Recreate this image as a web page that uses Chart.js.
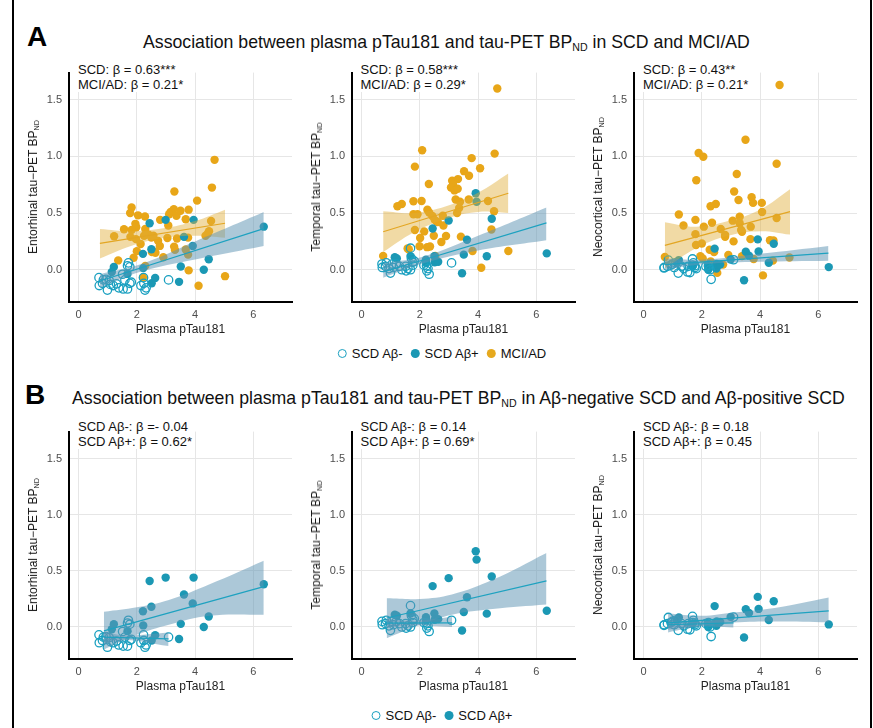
<!DOCTYPE html>
<html>
<head>
<meta charset="utf-8">
<script src="https://cdn.jsdelivr.net/npm/chart.js@4.4.1/dist/chart.umd.min.js"></script>
<style>
  body { margin: 0; background: #fff; font-family: "Liberation Sans", Arial, sans-serif; }
  #fig { position: relative; width: 873px; height: 728px; overflow: hidden; background: #fff; }
  .frame { position: absolute; top: 0; width: 2px; height: 728px; background: #000; }
  .letter { position: absolute; font-size: 28px; font-weight: bold; line-height: 28px; color: #000; }
  .title { position: absolute; font-size: 17.7px; line-height: 20px; color: #111; white-space: nowrap; }
  sub { font-size: 0.6em; vertical-align: -0.3em; line-height: 0; }
  canvas.panel { position: absolute; }
  .ylab { position: absolute; font-size: 12px; line-height: 14px; white-space: nowrap; color: #1a1a1a;
          transform: translate(-50%, -50%) rotate(-90deg); }
  .note { position: absolute; font-size: 13px; line-height: 15px; white-space: nowrap; color: #111;
          background: #fff; padding: 0 2px; }
  .legend { position: absolute; display: flex; align-items: center; font-size: 13px; color: #111;
            transform: translateX(-50%); white-space: nowrap; }
  .legend .mk { display: inline-block; width: 9px; height: 9px; border-radius: 50%; box-sizing: border-box;
                margin-right: 5px; }
  .legend .it { display: flex; align-items: center; margin-right: 8px; }
</style>
</head>
<body>
<div id="fig">
  <div class="frame" style="left:12px"></div>
  <div class="frame" style="left:870px"></div>

  <div class="letter" style="left:27px; top:23px">A</div>
  <div class="title" style="left:143px; top:32px">Association between plasma pTau181 and tau-PET BP<sub>ND</sub> in SCD and MCI/AD</div>

  <div class="letter" style="left:25px; top:381px">B</div>
  <div class="title" style="left:72px; top:388px">Association between plasma pTau181 and tau-PET BP<sub>ND</sub> in Aβ-negative SCD and Aβ-positive SCD</div>

  <div class="legend" style="left:446px; top:346px">
    <span class="it"><span class="mk" style="border:1.3px solid #1aa0c0"></span>SCD Aβ-</span>
    <span class="it"><span class="mk" style="background:#1b98b4"></span>SCD Aβ+</span>
    <span class="it"><span class="mk" style="background:#e6a91e"></span>MCI/AD</span>
  </div>
  <div class="legend" style="left:446px; top:708px">
    <span class="it"><span class="mk" style="border:1.3px solid #1aa0c0"></span>SCD Aβ-</span>
    <span class="it"><span class="mk" style="background:#1b98b4"></span>SCD Aβ+</span>
  </div>
</div>

<script>
// ---- axis ticks ----
const xTicks = [0, 2, 4, 6];
const yTicks = [0, 0.5, 1, 1.5];

// ---- SCD Aβ- (open circles), same subjects in every panel ----
const negX = [0.70, 0.71, 0.82, 0.85, 0.94, 0.99, 1.05, 1.09, 1.19, 1.30, 1.38, 1.51, 1.53, 1.59, 1.68, 1.68, 1.71, 1.76, 1.76, 1.81, 2.14, 2.23, 2.24, 2.28, 2.32, 3.09];
const negEnt = [-0.07, -0.14, -0.12, -0.09, -0.085, -0.18, -0.095, -0.13, -0.14, -0.125, -0.16, -0.04, -0.17, -0.09, 0.035, -0.17, 0.06, 0.025, -0.12, -0.11, -0.14, -0.07, -0.12, -0.18, -0.16, -0.09];
const negTmp = [0.05, 0.02, 0.03, 0.06, 0.01, -0.03, 0.05, 0.02, 0.05, 0.03, 0.0, 0.03, -0.01, 0.01, 0.19, 0.0, 0.10, 0.065, 0.04, 0.075, 0.04, 0.035, -0.01, 0.01, -0.04, 0.06];
const negNeo = [0.015, 0.02, 0.03, 0.085, 0.04, 0.05, 0.02, 0.06, -0.03, 0.03, 0.01, -0.02, 0.03, -0.025, 0.095, 0.04, 0.06, 0.02, 0.035, 0.01, 0.03, 0.04, 0.02, 0.0, -0.085, 0.088];

// ---- SCD Aβ+ (filled teal) ----
const posX = [1.14, 1.21, 1.68, 2.21, 2.22, 2.44, 2.50, 2.51, 2.63, 2.99, 3.45, 3.51, 3.62, 3.92, 3.95, 4.30, 4.47, 6.36];
const posEnt = [-0.02, 0.025, -0.037, 0.14, 0.014, 0.41, 0.18, -0.12, -0.073, 0.44, -0.107, 0.028, 0.29, 0.21, 0.44, 0.0, 0.093, 0.38];
const posTmp = [0.11, 0.10, 0.12, 0.088, 0.06, 0.364, 0.12, 0.065, 0.07, 0.435, -0.031, 0.133, 0.265, 0.675, 0.60, 0.119, 0.45, 0.144];
const posNeo = [0.06, 0.085, 0.03, 0.03, 0.0, 0.186, 0.01, 0.05, 0.045, 0.09, -0.093, 0.158, 0.124, 0.268, 0.161, 0.062, 0.229, 0.023];

// ---- MCI/AD (orange) ----
const mciEntX = [4.67, 4.58, 3.29, 4.07, 1.82, 1.77, 2.04, 2.28, 3.27, 3.16, 3.11, 3.36, 3.50, 3.78, 3.68, 2.80, 1.95, 2.29, 1.98, 1.56, 1.82, 3.08, 2.41, 2.25, 2.50, 2.57, 1.22, 1.78, 1.97, 2.73, 3.05, 3.38, 3.76, 4.44, 4.48, 4.36, 4.55, 3.28, 3.31, 3.68, 3.76, 2.79, 2.60, 2.00, 2.13, 2.64, 2.52, 2.91, 1.89, 1.36, 2.29, 2.21, 3.78, 5.03, 4.12];
const mciEntY = [0.97, 0.725, 0.69, 0.61, 0.55, 0.50, 0.48, 0.47, 0.535, 0.51, 0.49, 0.475, 0.52, 0.53, 0.445, 0.44, 0.405, 0.36, 0.375, 0.357, 0.35, 0.39, 0.31, 0.30, 0.285, 0.30, 0.295, 0.29, 0.27, 0.255, 0.28, 0.275, 0.283, 0.32, 0.34, 0.30, 0.43, 0.204, 0.175, 0.178, 0.133, 0.21, 0.16, 0.164, 0.227, 0.15, 0.155, 0.11, 0.105, 0.082, 0.034, -0.068, -0.006, -0.057, -0.142];
const mciTmpX = [4.66, 2.08, 4.57, 3.78, 1.83, 4.07, 3.52, 3.69, 3.31, 3.11, 3.14, 3.07, 2.31, 3.19, 3.30, 1.38, 1.23, 1.78, 2.06, 3.23, 3.68, 3.38, 4.34, 1.78, 1.92, 2.26, 2.32, 2.43, 2.51, 2.58, 2.79, 2.62, 3.28, 3.35, 4.55, 1.83, 2.15, 2.81, 2.48, 2.90, 3.41, 4.46, 2.01, 2.74, 1.99, 2.25, 2.35, 1.58, 1.62, 0.74, 2.53, 2.53, 3.81, 5.04, 4.11];
const mciTmpY = [1.60, 1.055, 1.025, 0.985, 0.91, 0.895, 0.87, 0.83, 0.80, 0.785, 0.75, 0.725, 0.757, 0.70, 0.715, 0.58, 0.56, 0.605, 0.607, 0.62, 0.62, 0.60, 0.607, 0.49, 0.49, 0.53, 0.505, 0.474, 0.44, 0.425, 0.476, 0.42, 0.50, 0.545, 0.516, 0.35, 0.338, 0.39, 0.30, 0.298, 0.292, 0.355, 0.28, 0.244, 0.207, 0.199, 0.205, 0.187, 0.18, 0.122, 0.122, 0.095, 0.165, 0.165, 0.017];
const mciNeoX = [4.67, 3.50, 1.89, 2.05, 4.57, 3.20, 1.81, 3.11, 3.71, 3.26, 4.06, 3.76, 2.48, 2.30, 4.07, 1.21, 3.06, 3.30, 1.78, 4.57, 2.35, 3.30, 1.37, 2.07, 3.68, 2.65, 3.35, 3.38, 2.80, 2.80, 1.78, 1.80, 2.00, 3.67, 3.09, 4.34, 4.46, 2.27, 2.42, 0.73, 1.95, 2.03, 2.91, 3.38, 3.78, 5.01, 4.44, 2.73, 2.30, 2.53, 2.53, 4.10];
const mciNeoY = [1.63, 1.147, 1.03, 0.997, 0.935, 0.845, 0.79, 0.69, 0.64, 0.615, 0.59, 0.59, 0.58, 0.56, 0.51, 0.487, 0.433, 0.467, 0.44, 0.456, 0.414, 0.41, 0.39, 0.38, 0.38, 0.36, 0.35, 0.335, 0.306, 0.29, 0.314, 0.218, 0.232, 0.27, 0.25, 0.26, 0.258, 0.176, 0.155, 0.113, 0.12, 0.10, 0.13, 0.12, 0.094, 0.108, 0.08, 0.045, 0.074, -0.028, 0.03, -0.05];

// ---- fitted lines (end points) and confidence bands, panel A ----
const scdEntFitX = [0.73, 6.36], scdEntFit = [-0.10, 0.363];
const scdEntBandX = [0.73, 2.1, 4.0, 6.36], scdEntUp = [-0.04, 0.045, 0.25, 0.51], scdEntLo = [-0.16, -0.02, 0.09, 0.21];
const mciEntFitX = [0.73, 5.03], mciEntFit = [0.232, 0.41];
const mciEntBandX = [0.73, 1.8, 2.9, 4.0, 5.03], mciEntUp = [0.36, 0.34, 0.365, 0.43, 0.53], mciEntLo = [0.10, 0.21, 0.28, 0.30, 0.283];

const scdTmpFitX = [0.74, 6.35], scdTmpFit = [-0.02, 0.414];
const scdTmpBandX = [0.74, 2.1, 4.0, 6.35], scdTmpUp = [0.06, 0.115, 0.30, 0.55], scdTmpLo = [-0.07, 0.055, 0.17, 0.26];
const mciTmpFitX = [0.74, 5.04], mciTmpFit = [0.335, 0.675];
const mciTmpBandX = [0.74, 1.8, 2.9, 4.0, 5.04], mciTmpUp = [0.515, 0.50, 0.56, 0.68, 0.85], mciTmpLo = [0.156, 0.33, 0.45, 0.51, 0.50];

const scdNeoFitX = [0.73, 6.35], scdNeoFit = [0.045, 0.147];
const scdNeoBandX = [0.73, 2.1, 4.0, 6.35], scdNeoUp = [0.10, 0.09, 0.14, 0.21], scdNeoLo = [0.0, 0.05, 0.07, 0.08];
const mciNeoFitX = [0.73, 5.03], mciNeoFit = [0.215, 0.513];
const mciNeoBandX = [0.73, 1.8, 2.9, 4.0, 5.03], mciNeoUp = [0.42, 0.38, 0.43, 0.53, 0.71], mciNeoLo = [0.01, 0.19, 0.30, 0.34, 0.31];

// ---- fitted lines and bands, panel B ----
const posEntFitX = [0.87, 6.36], posEntFit = [-0.034, 0.36];
const posEntBandX = [0.87, 2.0, 3.1, 4.5, 6.36], posEntUp = [0.135, 0.175, 0.24, 0.38, 0.59], posEntLo = [-0.20, -0.07, 0.02, 0.10, 0.11];
const negEntFitX = [0.85, 3.09], negEntFit = [-0.09, -0.105];
const negEntBandX = [0.85, 1.6, 3.09], negEntUp = [-0.04, -0.075, -0.05], negEntLo = [-0.15, -0.115, -0.17];

const posTmpFitX = [0.86, 6.35], posTmpFit = [0.08, 0.41];
const posTmpBandX = [0.86, 2.0, 3.1, 4.5, 6.35], posTmpUp = [0.255, 0.25, 0.29, 0.42, 0.66], posTmpLo = [-0.10, 0.02, 0.11, 0.16, 0.20];
const negTmpFitX = [0.86, 3.11], negTmpFit = [0.034, 0.037];
const negTmpBandX = [0.86, 1.6, 3.11], negTmpUp = [0.075, 0.055, 0.09], negTmpLo = [-0.01, 0.015, 0.0];

const posNeoFitX = [0.84, 6.36], posNeoFit = [0.037, 0.144];
const posNeoBandX = [0.84, 2.0, 3.1, 4.5, 6.36], posNeoUp = [0.12, 0.10, 0.13, 0.17, 0.263], posNeoLo = [-0.048, 0.01, 0.04, 0.05, 0.042];
const negNeoFitX = [0.84, 3.09], negNeoFit = [0.02, 0.037];
const negNeoBandX = [0.84, 1.6, 3.09], negNeoUp = [0.06, 0.045, 0.075], negNeoLo = [-0.025, 0.005, -0.005];

// ---- styles ----
const teal = "#1b98b4", tealLine = "#1ea2c0", openCol = "#1aa0c0";
const orange = "#e8a618", orangeLine = "#e3a623";
const blueBand = "rgba(96, 150, 180, 0.52)", orangeBand = "rgba(225, 172, 55, 0.45)";

Chart.defaults.font.family = '"Liberation Sans", Arial, sans-serif';

const fig = document.getElementById("fig");
const plotW = 223;

function pts(xs, ys) { return xs.map((x, i) => ({ x: x, y: ys[i] })); }

function dots(xs, ys, color, open) {
  return {
    data: pts(xs, ys), showLine: false, order: 5,
    pointRadius: 4.2, pointHoverRadius: 4.2,
    pointBorderWidth: open ? 1.3 : 0,
    pointBackgroundColor: open ? "rgba(0,0,0,0)" : color,
    pointBorderColor: color
  };
}

function band(xs, up, lo, fill) {
  return [
    { data: pts(xs, up), pointRadius: 0, borderWidth: 0, borderColor: "transparent", tension: 0.4, fill: "+1", backgroundColor: fill, order: 2 },
    { data: pts(xs, lo), pointRadius: 0, borderWidth: 0, borderColor: "transparent", tension: 0.4, fill: false, order: 2 }
  ];
}

function fit(xs, ys, color) {
  return { data: pts(xs, ys), pointRadius: 0, borderWidth: 1.2, borderColor: color, fill: false, order: 1 };
}

function panel(left, top, h, yTitle, notes, datasets) {
  const cv = document.createElement("canvas");
  cv.className = "panel";
  cv.width = plotW + 45 + 6;
  cv.height = h + 4 + 36;
  cv.style.left = (left - 45) + "px";
  cv.style.top = (top - 4) + "px";
  fig.appendChild(cv);

  const yl = document.createElement("div");
  yl.className = "ylab";
  yl.innerHTML = yTitle;
  yl.style.left = (left - 36) + "px";
  yl.style.top = (top + h / 2 + 4) + "px";
  fig.appendChild(yl);

  const nt = document.createElement("div");
  nt.className = "note";
  nt.innerHTML = notes.join("<br>");
  nt.style.left = (left + 7) + "px";
  nt.style.top = (top === 63 ? 62 : 419) + "px";
  fig.appendChild(nt);

  new Chart(cv.getContext("2d"), {
    type: "line",
    data: { datasets: datasets },
    options: {
      responsive: false,
      animation: false,
      layout: { padding: { top: 4, right: 6, left: 0, bottom: 0 } },
      plugins: { legend: { display: false }, tooltip: { enabled: false } },
      scales: {
        x: {
          type: "linear", min: -0.33, max: 7.33,
          afterBuildTicks: s => { s.ticks = xTicks.map(v => ({ value: v })); },
          afterFit: s => { s.height = 36; },
          grid: { color: "#e6e6e6", lineWidth: 1, drawTicks: false },
          border: { color: "#000", width: 2 },
          ticks: { font: { size: 11 }, color: "#4d4d4d", padding: 6 },
          title: { display: true, text: "Plasma pTau181", font: { size: 12 }, color: "#222", padding: { top: 0, bottom: 1 } }
        },
        y: {
          type: "linear", min: -0.285, max: 1.74,
          afterBuildTicks: s => { s.ticks = yTicks.map(v => ({ value: v })); },
          afterFit: s => { s.width = 45; },
          grid: { color: "#e6e6e6", lineWidth: 1, drawTicks: false },
          border: { color: "#000", width: 2 },
          ticks: { font: { size: 11 }, color: "#4d4d4d", padding: 7, callback: v => v.toFixed(1) }
        }
      }
    }
  });
}

const cols = [69, 351.5, 634];
const topA = 63, hA = 239, topB = 422, hB = 237;

// Panel A
panel(cols[0], topA, hA, "Entorhinal tau\u2212PET BP<sub>ND</sub>",
  ["SCD: β = 0.63***", "MCI/AD: β = 0.21*"],
  [dots(negX, negEnt, openCol, true), dots(posX, posEnt, teal, false), dots(mciEntX, mciEntY, orange, false),
   ...band(scdEntBandX, scdEntUp, scdEntLo, blueBand), ...band(mciEntBandX, mciEntUp, mciEntLo, orangeBand),
   fit(scdEntFitX, scdEntFit, tealLine), fit(mciEntFitX, mciEntFit, orangeLine)]);

panel(cols[1], topA, hA, "Temporal tau\u2212PET BP<sub>ND</sub>",
  ["SCD: β = 0.58***", "MCI/AD: β = 0.29*"],
  [dots(negX, negTmp, openCol, true), dots(posX, posTmp, teal, false), dots(mciTmpX, mciTmpY, orange, false),
   ...band(scdTmpBandX, scdTmpUp, scdTmpLo, blueBand), ...band(mciTmpBandX, mciTmpUp, mciTmpLo, orangeBand),
   fit(scdTmpFitX, scdTmpFit, tealLine), fit(mciTmpFitX, mciTmpFit, orangeLine)]);

panel(cols[2], topA, hA, "Neocortical tau\u2212PET BP<sub>ND</sub>",
  ["SCD: β = 0.43**", "MCI/AD: β = 0.21*"],
  [dots(negX, negNeo, openCol, true), dots(posX, posNeo, teal, false), dots(mciNeoX, mciNeoY, orange, false),
   ...band(scdNeoBandX, scdNeoUp, scdNeoLo, blueBand), ...band(mciNeoBandX, mciNeoUp, mciNeoLo, orangeBand),
   fit(scdNeoFitX, scdNeoFit, tealLine), fit(mciNeoFitX, mciNeoFit, orangeLine)]);

// Panel B
panel(cols[0], topB, hB, "Entorhinal tau\u2212PET BP<sub>ND</sub>",
  ["SCD Aβ-: β =- 0.04", "SCD Aβ+: β = 0.62*"],
  [dots(negX, negEnt, openCol, true), dots(posX, posEnt, teal, false),
   ...band(posEntBandX, posEntUp, posEntLo, blueBand), ...band(negEntBandX, negEntUp, negEntLo, blueBand),
   fit(posEntFitX, posEntFit, tealLine), fit(negEntFitX, negEntFit, tealLine)]);

panel(cols[1], topB, hB, "Temporal tau\u2212PET BP<sub>ND</sub>",
  ["SCD Aβ-: β = 0.14", "SCD Aβ+: β = 0.69*"],
  [dots(negX, negTmp, openCol, true), dots(posX, posTmp, teal, false),
   ...band(posTmpBandX, posTmpUp, posTmpLo, blueBand), ...band(negTmpBandX, negTmpUp, negTmpLo, blueBand),
   fit(posTmpFitX, posTmpFit, tealLine), fit(negTmpFitX, negTmpFit, tealLine)]);

panel(cols[2], topB, hB, "Neocortical tau\u2212PET BP<sub>ND</sub>",
  ["SCD Aβ-: β = 0.18", "SCD Aβ+: β = 0.45"],
  [dots(negX, negNeo, openCol, true), dots(posX, posNeo, teal, false),
   ...band(posNeoBandX, posNeoUp, posNeoLo, blueBand), ...band(negNeoBandX, negNeoUp, negNeoLo, blueBand),
   fit(posNeoFitX, posNeoFit, tealLine), fit(negNeoFitX, negNeoFit, tealLine)]);
</script>
</body>
</html>
